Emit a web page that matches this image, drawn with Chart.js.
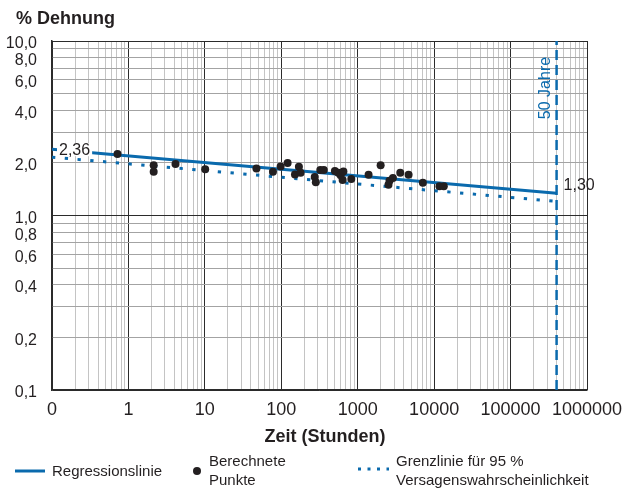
<!DOCTYPE html>
<html lang="de">
<head>
<meta charset="utf-8">
<script src="https://cdn.jsdelivr.net/npm/chart.js"></script>
<style>
  body { margin: 0; background: #ffffff; }
  #wrap { width: 639px; height: 492px; }
</style>
</head>
<body>
<div id="wrap"><canvas id="kriech" width="639" height="492"></canvas></div>
<script>
// Berechnete Punkte: Zeit in Stunden, Dehnung in %
const pointHours = [0.72, 2.14, 2.14, 4.13, 10.1, 47.3, 77.8, 98, 121, 151, 170, 179,
  274, 283, 324, 360, 503, 556, 598, 650, 635, 824,
  1387, 1995, 2527, 2606, 2888, 3603, 4630, 7120, 11740, 13380];
const pointStrain = [2.25, 1.94, 1.78, 1.97, 1.84, 1.86, 1.78, 1.91, 2.00, 1.72, 1.90, 1.76,
  1.66, 1.55, 1.82, 1.82, 1.80, 1.76, 1.70, 1.79, 1.60, 1.62,
  1.71, 1.94, 1.50, 1.58, 1.64, 1.76, 1.71, 1.54, 1.47, 1.47];

// Regressionslinie und Grenzlinie fuer 95 % Versagenswahrscheinlichkeit
const regHours = [0.1, 400000];
const regStrain = [2.40, 1.34];
const limitHours = [0.1, 435000];
const limitStrain = [2.16, 1.20];

// 50 Jahre Markierung (Stunden)
const fiftyYears = [400000, 400000];
const fiftyRange = [0.1, 10];

// Achsenbeschriftungen
const xTickValues = [0.1, 1, 10, 100, 1000, 10000, 100000, 1000000];
const xTickLabels = ['0', '1', '10', '100', '1000', '10000', '100000', '1000000'];
const yTickValues = [0.1, 0.2, 0.4, 0.6, 0.8, 1, 2, 4, 6, 8, 10];
const yTickLabels = ['0,1', '0,2', '0,4', '0,6', '0,8', '1,0', '2,0', '4,0', '6,0', '8,0', '10,0'];
const startLabel = '2,36';
const endLabel = '1,30';

const blue = '#0a6aad';
const ink = '#231f20';
const fontFamily = '"Liberation Sans", Arial, Helvetica, sans-serif';

Chart.defaults.font.family = fontFamily;

const toPoints = (xs, ys) => xs.map((x, i) => ({ x: x, y: ys[i] }));

// Gitterlinien 1..9 je Dekade
function logGrid(min, max) {
  const out = [];
  const e0 = Math.round(Math.log10(min));
  const e1 = Math.round(Math.log10(max));
  for (let e = e0; e < e1; e++) {
    for (let m = 1; m < 10; m++) {
      out.push({ value: +(m * Math.pow(10, e)).toPrecision(6) });
    }
  }
  out.push({ value: max });
  return out;
}

function isDecade(v) {
  const l = Math.log10(v);
  return Math.abs(l - Math.round(l)) < 1e-9;
}

function labelFor(value, values, labels) {
  const i = values.findIndex(v => Math.abs(v - value) / v < 1e-6);
  return i < 0 ? '' : labels[i];
}

// Texte, Achsentitel und Legende
const beschriftung = {
  id: 'beschriftung',
  afterDatasetsDraw(chart) {
    const { ctx, chartArea, scales } = chart;
    const x = scales.x, y = scales.y;
    ctx.save();
    ctx.font = '16px ' + fontFamily;
    ctx.textBaseline = 'middle';

    // 2,36
    const sx = chartArea.left + 7;
    const sy = y.getPixelForValue(regStrain[0]) + 1;
    const w = ctx.measureText(startLabel).width;
    ctx.fillStyle = '#ffffff';
    ctx.fillRect(sx - 2, sy - 7, w + 4, 13);
    ctx.fillStyle = ink;
    ctx.fillText(startLabel, sx, sy);

    // 1,30
    const ex = x.getPixelForValue(regHours[1]) + 7;
    const ey = y.getPixelForValue(regStrain[1]) - 8;
    ctx.fillText(endLabel, ex, ey);

    // 50 Jahre
    ctx.save();
    ctx.translate(x.getPixelForValue(fiftyYears[0]) - 11, chartArea.top + 47);
    ctx.rotate(-Math.PI / 2);
    ctx.textAlign = 'center';
    ctx.fillStyle = blue;
    ctx.fillText('50 Jahre', 0, 0);
    ctx.restore();
    ctx.restore();
  },
  afterDraw(chart) {
    const { ctx } = chart;
    ctx.save();
    ctx.fillStyle = ink;
    ctx.textBaseline = 'middle';

    ctx.font = 'bold 18px ' + fontFamily;
    ctx.fillText('% Dehnung', 16, 19);

    ctx.font = 'bold 18px ' + fontFamily;
    ctx.textAlign = 'center';
    ctx.fillText('Zeit (Stunden)', 325, 437);

    // Legende
    ctx.textAlign = 'left';
    ctx.font = '15px ' + fontFamily;
    ctx.strokeStyle = blue;
    ctx.lineWidth = 3;
    ctx.beginPath();
    ctx.moveTo(15, 471);
    ctx.lineTo(45, 471);
    ctx.stroke();
    ctx.fillText('Regressionslinie', 52, 472);

    ctx.beginPath();
    ctx.arc(197, 471, 4, 0, Math.PI * 2);
    ctx.fill();
    ctx.fillText('Berechnete', 209, 462);
    ctx.fillText('Punkte', 209, 481);

    ctx.setLineDash([3, 6.5]);
    ctx.beginPath();
    ctx.moveTo(358, 469);
    ctx.lineTo(389, 469);
    ctx.stroke();
    ctx.setLineDash([]);
    ctx.fillText('Grenzlinie für 95 %', 396, 462);
    ctx.fillText('Versagenswahrscheinlichkeit', 396, 481);
    ctx.restore();
  }
};

new Chart(document.getElementById('kriech'), {
  type: 'scatter',
  data: {
    datasets: [
      {
        label: 'Berechnete Punkte',
        data: toPoints(pointHours, pointStrain),
        pointRadius: 4,
        backgroundColor: ink,
        borderWidth: 0
      },
      {
        label: 'Regressionslinie',
        data: toPoints(regHours, regStrain),
        showLine: true,
        borderColor: blue,
        borderWidth: 3,
        pointRadius: 0
      },
      {
        label: 'Grenzlinie für 95 % Versagenswahrscheinlichkeit',
        data: toPoints(limitHours, limitStrain),
        showLine: true,
        borderColor: blue,
        borderWidth: 3,
        borderDash: [3.3, 9.5],
        borderCapStyle: 'butt',
        pointRadius: 0
      },
      {
        label: '50 Jahre',
        data: toPoints(fiftyYears, fiftyRange),
        showLine: true,
        borderColor: blue,
        borderWidth: 2.5,
        borderDash: [10, 5],
        pointRadius: 0
      }
    ]
  },
  options: {
    responsive: false,
    animation: false,
    layout: { padding: { top: 41, right: 52, left: 0, bottom: 0 } },
    plugins: {
      legend: { display: false },
      tooltip: { enabled: false }
    },
    scales: {
      x: {
        type: 'logarithmic',
        min: 0.1,
        max: 1000000,
        afterBuildTicks: s => { s.ticks = logGrid(0.1, 1000000); },
        afterFit: s => { s.height = 102; },
        border: { color: '#2b2b2b', width: 1.5 },
        grid: {
          drawTicks: false,
          lineWidth: 1,
          color: c => (c.tick && isDecade(c.tick.value)) ? '#2b2b2b' : '#c4c4c4'
        },
        ticks: {
          autoSkip: false,
          maxRotation: 0,
          padding: 9,
          color: ink,
          font: { size: 18 },
          callback: v => labelFor(v, xTickValues, xTickLabels)
        }
      },
      y: {
        type: 'logarithmic',
        min: 0.1,
        max: 10,
        afterBuildTicks: s => { s.ticks = logGrid(0.1, 10); },
        afterFit: s => { s.width = 52; },
        border: { color: '#2b2b2b', width: 1.5 },
        grid: {
          drawTicks: false,
          lineWidth: 1,
          color: c => (c.tick && isDecade(c.tick.value)) ? '#2b2b2b' : '#a3a3a3'
        },
        ticks: {
          autoSkip: false,
          padding: 15,
          labelOffset: 3,
          color: ink,
          font: { size: 16 },
          callback: v => labelFor(v, yTickValues, yTickLabels)
        }
      }
    }
  },
  plugins: [beschriftung]
});
</script>
</body>
</html>
